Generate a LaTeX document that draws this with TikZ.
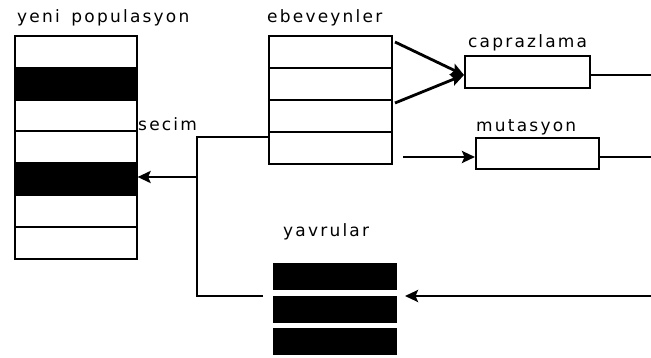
\documentclass[tikz,border=0pt]{standalone}
\usepackage{fontspec}
\setmainfont{DejaVu Sans}[LetterSpace=13]
\usetikzlibrary{arrows.meta}
\tikzset{
  cell/.style={draw=black, line width=1.6pt, fill=white, inner sep=0pt, anchor=north west, minimum width=122pt, minimum height=32pt},
  fullcell/.style={cell, fill=black},
  kid/.style={fill=black, inner sep=0pt, anchor=north west, minimum width=124pt, minimum height=27pt},
  opbox/.style={draw=black, line width=1.6pt, fill=white, inner sep=0pt, anchor=north west, minimum width=124pt},
  lbl/.style={anchor=base west, inner sep=0pt, font=\fontsize{17}{19}\selectfont},
  link/.style={line width=1.5pt},
  arr/.style={line width=2.8pt, -{Stealth[length=13pt,width=12pt,inset=2.5pt]}},
}
\begin{document}
\begin{tikzpicture}[x=1pt,y=-1pt]
\useasboundingbox (0,0) rectangle (651,358);
\fill[white] (0,0) rectangle (651,358);
% yeni populasyon
\node[cell] (p1) at (14,35) {};
\node[fullcell] (p2) at (14,67) {};
\node[cell] (p3) at (14,99) {};
\node[cell] (p4) at (14,130) {};
\node[fullcell] (p5) at (14,162) {};
\node[cell] (p6) at (14,194) {};
\node[cell] (p7) at (14,226) {};
\node[lbl] (tp) at (17,23) {yeni\hspace{4pt} populasyon};
% ebeveynler
\node[cell, minimum width=123pt] (e1) at (268,35) {};
\node[cell, minimum width=123pt] (e2) at (268,67) {};
\node[cell, minimum width=123pt] (e3) at (268,99) {};
\node[cell, minimum width=123pt] (e4) at (268,131) {};
\node[lbl] (te) at (267,23) {ebeveynler};
% operators
\node[opbox, minimum width=125pt, minimum height=32pt] (cr) at (464,55) {};
\node[lbl] (tc) at (468,48) {caprazlama};
\node[opbox, minimum width=123pt, minimum height=31pt] (mu) at (475,137) {};
\node[lbl] (tm) at (476,132) {mutasyon};
% yavrular
\node[kid] (y1) at (273,263) {};
\node[kid] (y2) at (273,296) {};
\node[kid] (y3) at (273,328) {};
\node[lbl] (ty) at (283,237) {yavrular};
\node[lbl] (ts) at (138,131) {secim};
% coordinates
\coordinate (a1) at (395,42);
\coordinate (a2) at (395,103);
\coordinate (a3) at (403,157);
\coordinate (r1) at (651,75);
\coordinate (r2) at (651,157);
\coordinate (r3) at (651,296);
\coordinate (tip3) at (405,296);
\coordinate (yl) at (263,296);
\coordinate (jb) at (197,296);
\coordinate (jt) at (197,137);
\coordinate (sj) at (197,177);
% connectors
\draw[arr] (a1) -- (cr.west |- r1);
\draw[arr] (a2) -- (cr.west |- r1);
\draw[link] (cr.east |- r1) -- (r1);
\draw[arr] (a3) -- (mu.west |- r2);
\draw[link] (mu.east |- r2) -- (r2);
\draw[arr] (r3) -- (tip3);
\draw[link] (yl) -- (jb) -- (jt) -- (e4.west |- jt);
\draw[arr] (sj) -- (sj -| p5.east);
\end{tikzpicture}
\end{document}
